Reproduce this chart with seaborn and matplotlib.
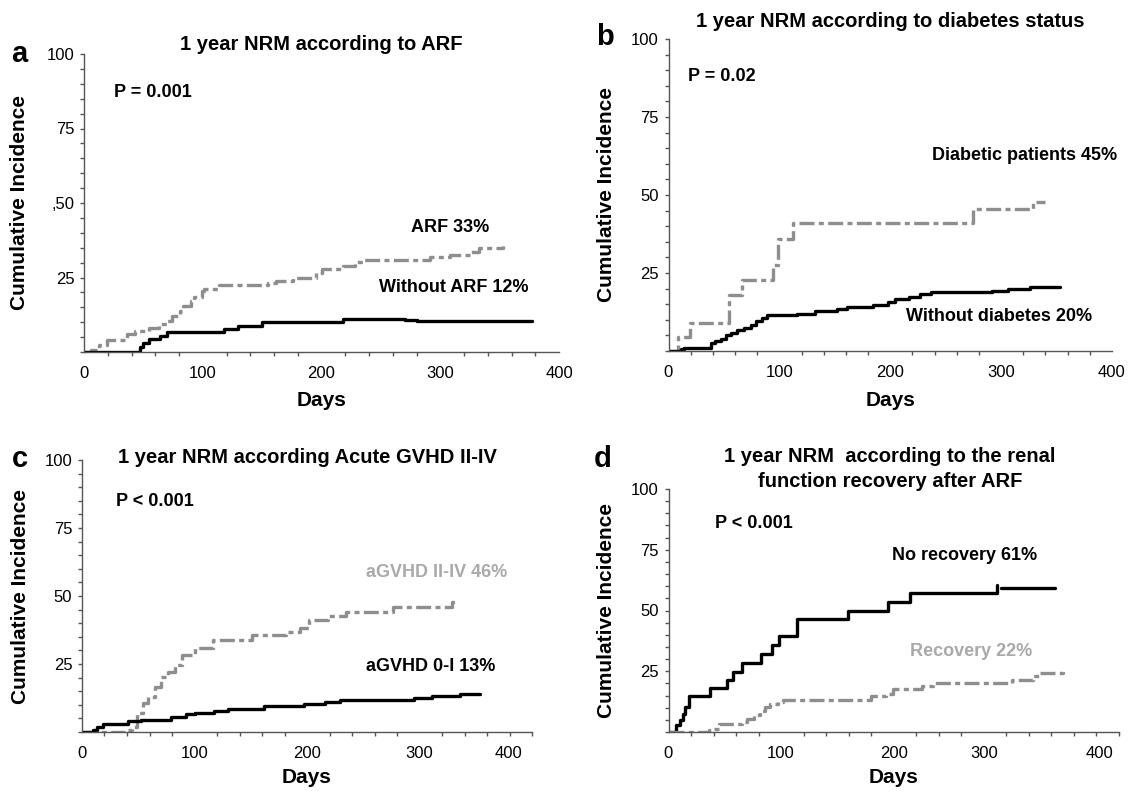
import numpy as np
import pandas as pd
import seaborn as sns
import matplotlib.pyplot as plt
from matplotlib.ticker import MultipleLocator, FixedLocator, FixedFormatter

# ---- panel a: ARF ----
a_arf_days = [0, 6, 13, 19, 36, 43, 55, 63, 70, 74, 81, 83, 90, 93, 99, 101, 114, 155, 162,
              176, 195, 200, 218, 228, 236, 291, 308, 326, 333, 353]
a_arf_ci = [0, 0.8, 2.5, 3.9, 6.2, 6.9, 8, 9.5, 10.3, 12.2, 13.6, 15.3, 17, 18.3, 20.4, 21, 22.6,
            23.2, 23.7, 24.8, 26.5, 27.9, 29, 30.1, 31, 31.9, 32.7, 33.4, 34.9, 35.5]
a_noarf_days = [0, 47, 50, 55, 64, 70, 118, 130, 150, 218, 270, 280, 290, 377]
a_noarf_ci = [0, 1.7, 3, 4.2, 5.3, 6.6, 7.7, 8.8, 10, 11, 10.8, 10.5, 10.3, 10.3]

# ---- panel b: diabetes ----
b_diab_days = [0, 9, 19, 55, 66, 94, 99, 112, 275, 329, 340]
b_diab_ci = [0, 4.4, 9.1, 18, 22.8, 27.6, 36, 41, 45.4, 47.9, 47.9]
b_nodiab_days = [0, 11, 14, 38, 42, 47, 52, 56, 62, 68, 74, 79, 84, 89, 116, 119, 132, 152, 161,
                 184, 198, 204, 217, 227, 237, 292, 306, 326, 353]
b_nodiab_ci = [0, 0.6, 1.1, 2.5, 3.3, 4, 5.1, 5.9, 6.6, 7.5, 8.3, 9.7, 10.5, 11.5, 11.7, 12, 12.8,
               13.4, 14, 14.7, 15.8, 16.6, 17.4, 18.3, 18.8, 19.2, 19.8, 20.4, 20.6]

# ---- panel c: acute GVHD ----
c_gvhd_days = [0, 38, 44, 49, 54, 59, 65, 70, 76, 83, 89, 100, 116, 151, 181, 194, 202, 219,
               235, 276, 329, 332]
c_gvhd_ci = [0, 0.6, 1.8, 7, 10.7, 12.9, 16.6, 20.2, 22, 24.5, 28.2, 30.7, 34, 35.6, 36.8, 38.4,
             41.1, 42.6, 44.2, 46, 47.9, 47.9]
c_nogvhd_days = [0, 10, 13, 19, 41, 52, 79, 92, 100, 117, 130, 162, 197, 216, 229, 295, 311, 336, 354]
c_nogvhd_ci = [0, 0.9, 1.8, 3.1, 4, 4.5, 5.5, 6.5, 7.1, 7.7, 8.6, 9.4, 10.2, 11, 11.7, 12.5, 13.2,
               14.1, 14.1]

# ---- panel d: renal recovery ----
d_norec_days = [0, 7, 10, 13, 15, 18, 37, 52, 57, 65, 82, 92, 98, 114, 159, 195, 214, 292]
d_norec_ci = [0, 2.7, 4.8, 7.6, 10.3, 14.7, 18.3, 21.6, 24.8, 28.6, 32, 35.8, 39.6, 46.5, 49.9,
              53.5, 57.4, 60.5]
d_norec_tail_days = [295, 343]
d_norec_tail_ci = [59.1, 59.1]
d_rec_days = [0, 36, 39, 45, 65, 70, 76, 81, 86, 90, 97, 102, 180, 193, 199, 225, 235, 305, 324, 329, 350]
d_rec_ci = [0, 0.7, 1.4, 3.2, 4.1, 5.5, 6.9, 8.7, 10.3, 11.7, 12.4, 13.1, 14.7, 15.8, 17.5, 18.8,
            20.2, 21.3, 23, 24.3, 25]

sns.set_style("ticks")
plt.rcParams['font.family'] = ['Liberation Sans', 'DejaVu Sans']
plt.rcParams['text.color'] = 'black'
plt.rcParams['axes.labelcolor'] = 'black'

GREY = "#8e8e8e"
LIGHT = "#a9a9a9"
AXC = "#555555"
DASHDOT = (0, (4.5, 1.3, 1.5, 1.3))
W, H = 1131, 791

fig = plt.figure(figsize=(11.31, 7.91), dpi=100)


def px_axes(x0, x1, ytop, ybot):
    return fig.add_axes([x0 / W, 1 - ybot / H, (x1 - x0) / W, (ybot - ytop) / H])


def curve(ax, days, ci, color, dashed=False):
    kw = dict(linestyle=DASHDOT) if dashed else {}
    sns.lineplot(x=days, y=ci, ax=ax, color=color, lw=2.4, drawstyle='steps-post',
                 estimator=None, sort=False, **kw)


def style(ax, ylabs, xpos, xlab_y, ylab_x):
    ax.set_xlim(0, 400)
    ax.set_ylim(0, 100)
    sns.despine(ax=ax)
    for s in ['left', 'bottom']:
        ax.spines[s].set_color(AXC)
        ax.spines[s].set_linewidth(1.0)
    ax.xaxis.set_major_locator(FixedLocator(xpos))
    ax.xaxis.set_major_formatter(FixedFormatter(['0', '100', '200', '300', '400']))
    ax.xaxis.set_minor_locator(MultipleLocator(20))
    ax.yaxis.set_major_locator(FixedLocator([25, 50, 75, 100]))
    ax.yaxis.set_major_formatter(FixedFormatter(ylabs))
    ax.yaxis.set_minor_locator(MultipleLocator(5))
    ax.tick_params(axis='x', which='major', length=0, pad=10, labelsize=12, labelcolor='black')
    ax.tick_params(axis='y', which='major', length=3, width=1, color=AXC, pad=4, labelsize=12,
                   labelcolor='black')
    ax.tick_params(which='minor', length=3, width=1, color=AXC)
    ax.set_xlabel('Days', fontsize=15, fontweight='bold', va='center')
    ax.set_ylabel('Cumulative Incidence', fontsize=15, fontweight='bold', va='center')
    ax.xaxis.set_label_coords(0.5, xlab_y)
    ax.yaxis.set_label_coords(ylab_x, 0.5)


def note(ax, x, y, s, color='black', ha='center'):
    ax.text(x, y, s, ha=ha, va='center', fontsize=13, fontweight='bold', color=color)


def ftext(x, y, s, size, ha='center'):
    fig.text(x / W, 1 - y / H, s, ha=ha, va='baseline', fontsize=size, fontweight='bold')


# panel a
ax = px_axes(84, 559, 54, 352)
curve(ax, a_arf_days, a_arf_ci, GREY, dashed=True)
curve(ax, a_noarf_days, a_noarf_ci, 'black')
style(ax, ['25', ',50', '75', '100'], [0, 100, 200, 300, 400], -0.164, -0.135)
note(ax, 25.5, 87, 'P = 0.001', ha='left')
note(ax, 308, 41.8, 'ARF 33%')
note(ax, 311, 21.5, 'Without ARF 12%')
ftext(321, 50, '1 year NRM according to ARF', 14.5)
ftext(19, 62, 'a', 21)

# panel b
ax = px_axes(668.5, 1112, 39, 351)
curve(ax, b_diab_days, b_diab_ci, GREY, dashed=True)
curve(ax, b_nodiab_days, b_nodiab_ci, 'black')
style(ax, ['25', '50', '75', '100'], [0, 100, 200, 300, 400], -0.16, -0.139)
note(ax, 17.7, 88, 'P = 0.02', ha='left')
note(ax, 321, 62.5, 'Diabetic patients 45%')
note(ax, 298, 11, 'Without diabetes 20%')
ftext(890, 27, '1 year NRM according to diabetes status', 14.5)
ftext(605, 45, 'b', 21)

# panel c
ax = px_axes(82, 532, 460, 732)
curve(ax, c_gvhd_days, c_gvhd_ci, GREY, dashed=True)
curve(ax, c_nogvhd_days, c_nogvhd_ci, 'black')
style(ax, ['25', '50', '75', '100'], [0, 100, 200, 300, 379], -0.169, -0.136)
note(ax, 30, 84.7, 'P < 0.001', ha='left')
note(ax, 315, 58.7, 'aGVHD II-IV 46%', color=LIGHT)
note(ax, 309.5, 24.2, 'aGVHD 0-I 13%')
ftext(307, 463, '1 year NRM according Acute GVHD II-IV', 14.5)
ftext(20, 467, 'c', 21)

# panel d
ax = px_axes(668.5, 1119, 489, 732)
curve(ax, d_norec_days, d_norec_ci, 'black')
curve(ax, d_norec_tail_days, d_norec_tail_ci, 'black')
curve(ax, d_rec_days, d_rec_ci, GREY, dashed=True)
style(ax, ['25', '50', '75', '100'], [0, 100, 200, 280, 383], -0.189, -0.137)
note(ax, 41.7, 85.6, 'P < 0.001', ha='left')
note(ax, 263, 72.5, 'No recovery 61%')
note(ax, 269, 33, 'Recovery 22%', color=LIGHT)
ftext(890, 462, '1 year NRM  according to the renal', 14.5)
ftext(890, 487, 'function recovery after ARF', 14.5)
ftext(603, 467, 'd', 21)

fig.savefig('out.png', dpi=100)
